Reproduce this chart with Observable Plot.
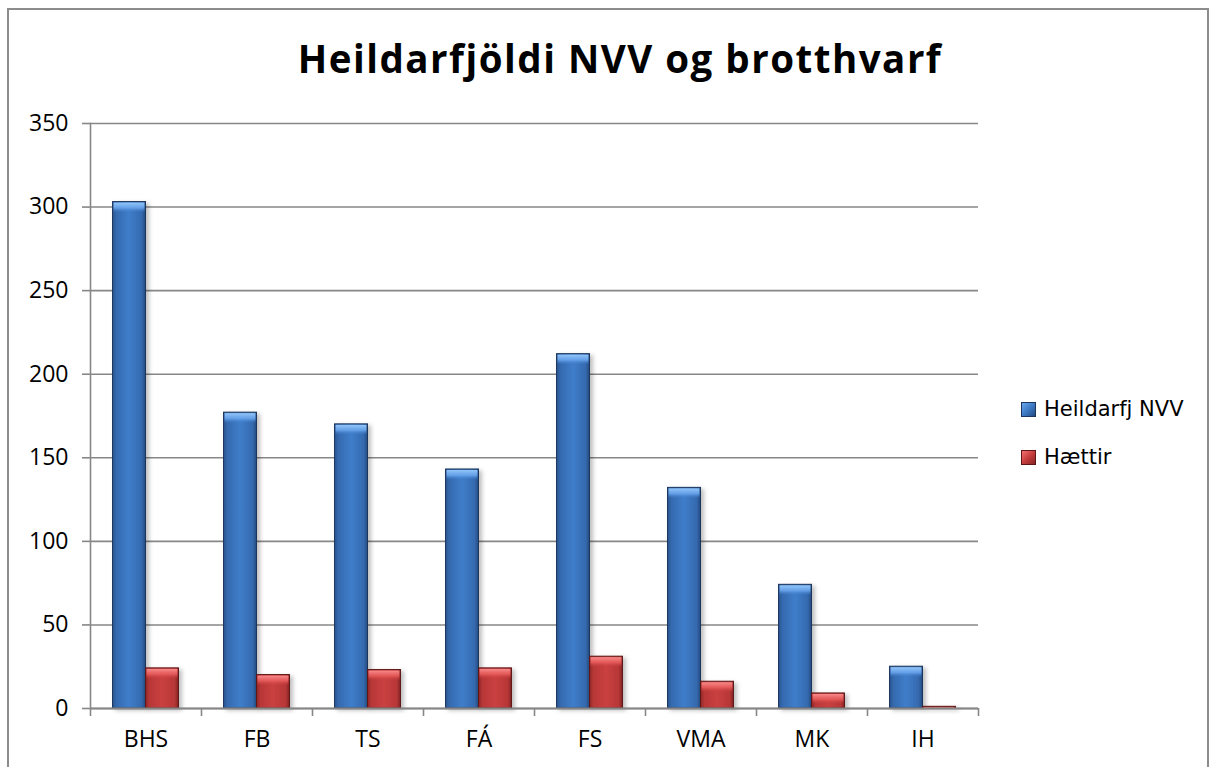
<!DOCTYPE html>
<html>
<head>
<meta charset="utf-8">
<script src="https://cdn.jsdelivr.net/npm/d3@7"></script>
<script src="https://cdn.jsdelivr.net/npm/@observablehq/plot@0.6"></script>
<style>
  html, body { margin: 0; padding: 0; background: #fff; overflow: hidden; }
  #wrap { position: relative; width: 1213px; height: 767px; overflow: hidden; background: #fff; }
  #border { position: absolute; left: 7px; top: 8px; width: 1202px; height: 820px; border: 2px solid #8c8c8c; box-sizing: border-box; }
  #title { position: absolute; left: 620px; top: 39px; transform: translateX(-50%); white-space: nowrap; letter-spacing: 1.5px;
           font-family: "Open Sans", sans-serif; font-weight: 700; font-size: 38.5px; line-height: 1; color: #000; }
  #chart { position: absolute; left: 0; top: 100px; }
  #legend { position: absolute; left: 1021px; top: 394px; font-family: "DejaVu Sans", sans-serif; font-size: 21px; color: #000; }
  .row { display: flex; align-items: center; height: 30px; margin-bottom: 18px; }
  .sw { width: 15px; height: 15px; margin-right: 8px; box-sizing: border-box; }
</style>
</head>
<body>
<div id="wrap">
  <div id="border"></div>
  <div id="title">Heildarfjöldi NVV og brotthvarf</div>
  <div id="chart"></div>
  <div id="legend"></div>
</div>
<script>
// ---- data ----
const categories = ["BHS", "FB", "TS", "FÁ", "FS", "VMA", "MK", "IH"];
const heildarfjNVV = [303, 177, 170, 143, 212, 132, 74, 25];
const haettir = [24, 20, 23, 24, 31, 16, 9, 1];
const seriesNames = ["Heildarfj NVV", "Hættir"];
const yTicks = [0, 50, 100, 150, 200, 250, 300, 350];

const rows = categories.map((c, i) => ({cat: c, nvv: heildarfjNVV[i], h: haettir[i]}));

// ---- layout ----
const W = 1213, H = 667;
const mL = 90, mR = 235, mT = 23, mB = 59;
const bw = (W - mL - mR) / categories.length;
const grid = "#878787";

const svg = Plot.plot({
  width: W, height: H,
  marginLeft: mL, marginRight: mR, marginTop: mT, marginBottom: mB,
  style: {fontFamily: "'Open Sans', sans-serif", fontSize: "23px", color: "#000", background: "transparent", overflow: "visible"},
  x: {domain: categories, padding: 0, tickSize: 0, tickPadding: 22, label: null},
  y: {domain: [0, 350], ticks: yTicks, tickSize: 8, tickPadding: 14, label: null},
  marks: [
    Plot.ruleY(yTicks, {stroke: grid, strokeWidth: 1.6}),
    Plot.frame({anchor: "left", stroke: grid, strokeWidth: 1.6}),
    Plot.barY(rows, {x: "cat", y: "nvv", fill: "url(#gBlue)", stroke: "#1c355c", strokeWidth: 1, insetLeft: bw * 0.203, insetRight: bw * 0.5}),
    Plot.barY(rows, {x: "cat", y: "h", fill: "url(#gRed)", stroke: "#5e1616", strokeWidth: 1, insetLeft: bw * 0.5, insetRight: bw * 0.203}),
    Plot.barY(rows, {x: "cat", y1: "nvv", y2: "nvv", insetTop: 1, insetBottom: -11, fill: "url(#gBlueTop)", insetLeft: bw * 0.203 + 1, insetRight: bw * 0.5 + 1, clip: true}),
    Plot.barY(rows, {x: "cat", y1: "h", y2: "h", insetTop: 1, insetBottom: -11, fill: "url(#gRedTop)", insetLeft: bw * 0.5 + 1, insetRight: bw * 0.203 + 1, clip: true}),
    Plot.ruleY([0], {stroke: grid, strokeWidth: 2}),
    Plot.ruleX(categories, {x: d => d, y1: 0, y2: 0, insetBottom: -8, dx: -bw / 2, stroke: grid, strokeWidth: 1.6}),
    Plot.ruleX(categories.slice(-1), {x: d => d, y1: 0, y2: 0, insetBottom: -8, dx: bw / 2, stroke: grid, strokeWidth: 1.6})
  ]
});

// gradients + shadow
const s = d3.select(svg);
const defs = s.insert("defs", ":first-child");
function hGrad(id, stops) {
  const g = defs.append("linearGradient").attr("id", id).attr("x1", 0).attr("x2", 1).attr("y1", 0).attr("y2", 0);
  stops.forEach(([o, c]) => g.append("stop").attr("offset", o).attr("stop-color", c));
}
function vGrad(id, stops) {
  const g = defs.append("linearGradient").attr("id", id).attr("x1", 0).attr("x2", 0).attr("y1", 0).attr("y2", 1);
  stops.forEach(([o, c, op]) => g.append("stop").attr("offset", o).attr("stop-color", c).attr("stop-opacity", op));
}
hGrad("gBlue", [[0, "#2a558f"], [0.12, "#356aaf"], [0.5, "#3f7dca"], [0.88, "#356aaf"], [1, "#244a80"]]);
hGrad("gRed", [[0, "#8f2828"], [0.12, "#b83737"], [0.5, "#ca4040"], [0.88, "#b83737"], [1, "#852424"]]);
vGrad("gBlueTop", [[0, "#93c6f8", 1], [0.55, "#6aa6ee", 0.85], [1, "#3f7dca", 0]]);
vGrad("gRedTop", [[0, "#f88a8a", 1], [0.55, "#e85b5b", 0.85], [1, "#ca4040", 0]]);
const f = defs.append("filter").attr("id", "shadow").attr("x", "-20%").attr("y", "-5%").attr("width", "150%").attr("height", "115%");
f.append("feDropShadow").attr("dx", 3).attr("dy", 2).attr("stdDeviation", 2).attr("flood-color", "#000").attr("flood-opacity", 0.25);

const barGroups = s.selectAll("g[aria-label='bar']").nodes();
if (barGroups[0]) d3.select(barGroups[0]).attr("filter", "url(#shadow)");
if (barGroups[1]) d3.select(barGroups[1]).attr("filter", "url(#shadow)");

// gray tick marks on the y axis
s.selectAll("g[aria-label='y-axis'] line, g[aria-label='y-axis tick'] path").attr("stroke", grid).attr("stroke-width", 1.6);
s.selectAll("g[aria-label='y-axis'] path").attr("stroke", grid);

document.getElementById("chart").appendChild(svg);

// legend
const colors = [
  "linear-gradient(135deg, #6aa6ee 0%, #3d7ac6 50%, #244a80 100%)",
  "linear-gradient(135deg, #f27272 0%, #c73d3d 50%, #852424 100%)"
];
const legend = d3.select("#legend");
seriesNames.forEach((name, i) => {
  const r = legend.append("div").attr("class", "row");
  r.append("div").attr("class", "sw").style("background", colors[i]).style("border", "1px solid " + (i ? "#5e1616" : "#1c355c"));
  r.append("span").text(name);
});
</script>
</body>
</html>
